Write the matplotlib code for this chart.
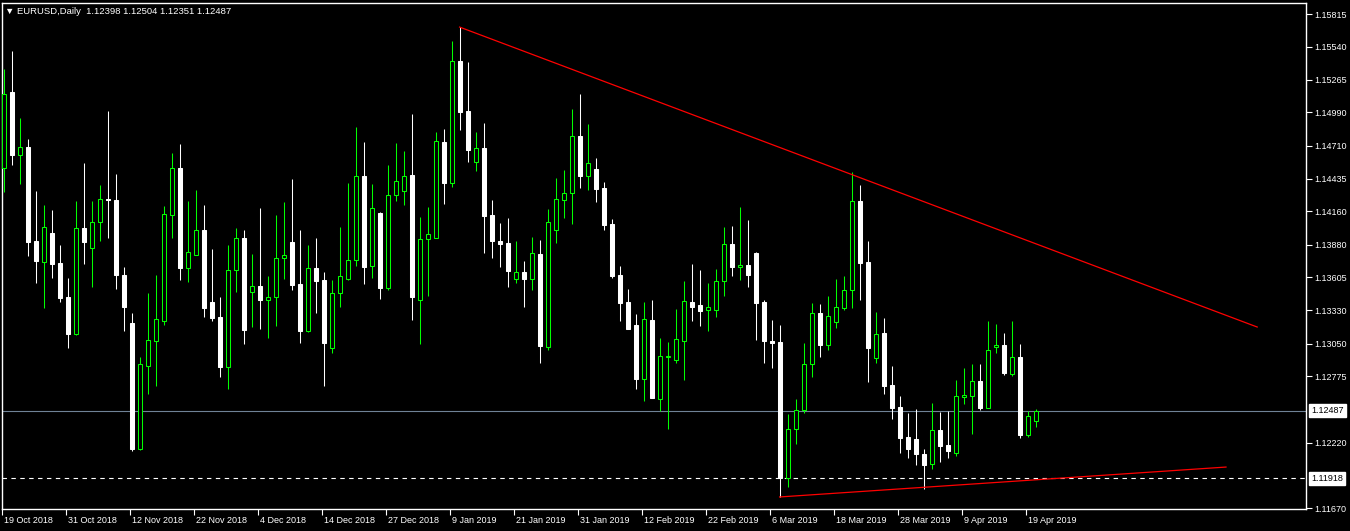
import matplotlib
matplotlib.use("Agg")
import matplotlib.pyplot as plt
import matplotlib.transforms as mtransforms
import numpy as np

plt.rcParams["font.family"] = ["Liberation Sans", "DejaVu Sans"]

# EURUSD daily, 19 Oct 2018 .. 22 Apr 2019
opens = [1.14523, 1.15161, 1.14632, 1.14700, 1.13911, 1.13735, 1.13978, 1.13726, 1.13441, 1.13130,
         1.14020, 1.13852, 1.14070, 1.14263, 1.14255, 1.13625, 1.13223, 1.12165, 1.12862, 1.13072,
         1.13240, 1.14129, 1.14523, 1.13684, 1.13793, 1.14003, 1.13399, 1.13273, 1.12853, 1.13667,
         1.13936, 1.13483, 1.13533, 1.13416, 1.13441, 1.13768, 1.13902, 1.13550, 1.13156, 1.13684,
         1.13584, 1.13013, 1.13474, 1.13592, 1.13751, 1.14456, 1.13701, 1.14146, 1.13516, 1.14297,
         1.14330, 1.14465, 1.13416, 1.13928, 1.13936, 1.14742, 1.14397, 1.15421, 1.15002, 1.14574,
         1.14691, 1.14129, 1.13911, 1.13894, 1.13592, 1.13651, 1.13592, 1.13802, 1.13021, 1.14003,
         1.14255, 1.14314, 1.14792, 1.14456, 1.14515, 1.14356, 1.14053, 1.13625, 1.13399, 1.13206,
         1.12753, 1.13248, 1.12585, 1.12937, 1.12912, 1.13072, 1.13399, 1.13374, 1.13332, 1.13332,
         1.13575, 1.13886, 1.13693, 1.13709, 1.13810, 1.13399, 1.13072, 1.13063, 1.11922, 1.12333,
         1.12493, 1.12879, 1.13307, 1.13038, 1.13231, 1.13349, 1.13500, 1.14246, 1.13735, 1.12929,
         1.13139, 1.12702, 1.12518, 1.12266, 1.12249, 1.12124, 1.12040, 1.12325, 1.12199, 1.12132,
         1.12602, 1.12610, 1.12736, 1.12510, 1.13021, 1.13038, 1.12795, 1.12937, 1.12283, 1.12398]
highs = [1.15354, 1.15505, 1.14943, 1.14767, 1.14330, 1.14213, 1.14171, 1.13877, 1.13600, 1.14246,
         1.14565, 1.14246, 1.14381, 1.15002, 1.14473, 1.13693, 1.13307, 1.12937, 1.13474, 1.13625,
         1.14204, 1.14649, 1.14725, 1.14246, 1.14339, 1.14213, 1.13844, 1.13441, 1.13877, 1.14020,
         1.14003, 1.13802, 1.14188, 1.13617, 1.14129, 1.14238, 1.14431, 1.14003, 1.13877, 1.13936,
         1.13651, 1.13584, 1.14028, 1.14397, 1.14867, 1.14742, 1.14389, 1.14154, 1.14549, 1.14733,
         1.14666, 1.14976, 1.14112, 1.14196, 1.14825, 1.14851, 1.15589, 1.15706, 1.15413, 1.14825,
         1.14901, 1.14255, 1.14062, 1.14104, 1.13911, 1.13743, 1.13944, 1.13919, 1.14179, 1.14439,
         1.14507, 1.15018, 1.15144, 1.14892, 1.14607, 1.14406, 1.14095, 1.13701, 1.13508, 1.13298,
         1.13399, 1.13416, 1.13097, 1.13063, 1.13340, 1.13575, 1.13718, 1.13667, 1.13558, 1.13676,
         1.14028, 1.14037, 1.14196, 1.14087, 1.13818, 1.13416, 1.13248, 1.13206, 1.12459, 1.12585,
         1.13055, 1.13391, 1.13382, 1.13449, 1.13592, 1.13617, 1.14490, 1.14381, 1.13911, 1.13315,
         1.13265, 1.12862, 1.12610, 1.12468, 1.12501, 1.12165, 1.12551, 1.12476, 1.12484, 1.12744,
         1.12845, 1.12879, 1.12879, 1.13240, 1.13214, 1.13139, 1.13240, 1.13046, 1.12484, 1.12504]
lows = [1.14322, 1.14549, 1.14389, 1.13785, 1.13558, 1.13349, 1.13600, 1.13399, 1.13013, 1.13122,
        1.13718, 1.13525, 1.13911, 1.13936, 1.13508, 1.13156, 1.12149, 1.12157, 1.12627, 1.12694,
        1.13206, 1.13936, 1.13584, 1.13567, 1.13793, 1.13273, 1.13240, 1.12770, 1.12669, 1.13483,
        1.13046, 1.13189, 1.13172, 1.13097, 1.13197, 1.13592, 1.13500, 1.13055, 1.13147, 1.13307,
        1.12694, 1.12971, 1.13357, 1.13584, 1.13701, 1.13550, 1.13600, 1.13424, 1.13500, 1.14246,
        1.14213, 1.13248, 1.13046, 1.13449, 1.13936, 1.14221, 1.14364, 1.14842, 1.14574, 1.14498,
        1.13810, 1.13768, 1.13693, 1.13525, 1.13558, 1.13357, 1.13500, 1.12887, 1.12996, 1.13894,
        1.14104, 1.14053, 1.14356, 1.14339, 1.14238, 1.14003, 1.13600, 1.13240, 1.13172, 1.12669,
        1.12568, 1.12593, 1.12484, 1.12333, 1.12887, 1.12744, 1.13240, 1.13197, 1.13156, 1.13273,
        1.13449, 1.13617, 1.13584, 1.13525, 1.13080, 1.12887, 1.12845, 1.11763, 1.11847, 1.12207,
        1.12468, 1.12770, 1.12937, 1.12996, 1.13181, 1.13332, 1.13349, 1.13416, 1.12728, 1.12887,
        1.12627, 1.12417, 1.12132, 1.12090, 1.12031, 1.11830, 1.11998, 1.12056, 1.12090, 1.12107,
        1.12543, 1.12291, 1.12493, 1.12510, 1.12971, 1.12786, 1.12778, 1.12258, 1.12266, 1.12351]
closes = [1.15144, 1.14632, 1.14700, 1.13902, 1.13743, 1.14028, 1.13718, 1.13433, 1.13130, 1.14020,
          1.13902, 1.14070, 1.14263, 1.14255, 1.13625, 1.13357, 1.12165, 1.12879, 1.13080, 1.13256,
          1.14137, 1.14523, 1.13684, 1.13818, 1.14003, 1.13349, 1.13265, 1.12853, 1.13667, 1.13936,
          1.13164, 1.13533, 1.13416, 1.13441, 1.13768, 1.13793, 1.13542, 1.13156, 1.13684, 1.13575,
          1.13055, 1.13474, 1.13617, 1.13751, 1.14456, 1.13693, 1.14188, 1.13516, 1.14297, 1.14414,
          1.14456, 1.13441, 1.13928, 1.13970, 1.14750, 1.14397, 1.15421, 1.14993, 1.14674, 1.14691,
          1.14121, 1.13911, 1.13886, 1.13659, 1.13651, 1.13592, 1.13810, 1.13030, 1.14070, 1.14263,
          1.14314, 1.14792, 1.14456, 1.14565, 1.14347, 1.14045, 1.13617, 1.13391, 1.13172, 1.12753,
          1.13256, 1.12593, 1.12946, 1.12946, 1.13088, 1.13407, 1.13357, 1.13323, 1.13357, 1.13575,
          1.13886, 1.13693, 1.13709, 1.13625, 1.13391, 1.13072, 1.13055, 1.11922, 1.12333, 1.12493,
          1.12879, 1.13307, 1.13038, 1.13281, 1.13357, 1.13500, 1.14246, 1.13726, 1.13013, 1.13130,
          1.12694, 1.12510, 1.12258, 1.12165, 1.12124, 1.12031, 1.12325, 1.12191, 1.12149, 1.12610,
          1.12619, 1.12736, 1.12510, 1.12996, 1.13038, 1.12803, 1.12937, 1.12283, 1.12442, 1.12487]

date_ticks = [0, 8, 16, 24, 32, 40, 48, 56, 64, 72, 80, 88, 96, 104, 112, 120, 128]
date_labels = ["19 Oct 2018", "31 Oct 2018", "12 Nov 2018", "22 Nov 2018", "4 Dec 2018",
               "14 Dec 2018", "27 Dec 2018", "9 Jan 2019", "21 Jan 2019", "31 Jan 2019",
               "12 Feb 2019", "22 Feb 2019", "6 Mar 2019", "18 Mar 2019", "28 Mar 2019",
               "9 Apr 2019", "19 Apr 2019"]
price_ticks = [1.15815, 1.15540, 1.15265, 1.14990, 1.14710, 1.14435, 1.14160, 1.13880,
               1.13605, 1.13330, 1.13050, 1.12775, 1.12220, 1.11670]

bid = 1.12487
level = 1.11918
upper_x, upper_y = [57, 156.7], [1.15706, 1.13189]
lower_x, lower_y = [97, 152.8], [1.11763, 1.12014]

GREEN = "#00ff00"
W, H = 1350, 531
fig = plt.figure(figsize=(W / 100, H / 100), dpi=100, facecolor="black")
ax = fig.add_axes([2 / W, 22 / H, 1304 / W, 506 / H], facecolor="black")

o = np.array(opens); h = np.array(highs); l = np.array(lows); c = np.array(closes)
x = np.arange(len(o))
up = c >= o
lw = 0.75

# wicks
ax.vlines(x[up], l[up], h[up], color=GREEN, lw=lw, zorder=2)
ax.vlines(x[~up], l[~up], h[~up], color="white", lw=lw, zorder=2)

# bodies
bot = np.minimum(o, c)
hgt = np.abs(c - o)
ax.bar(x[up], hgt[up], bottom=bot[up], width=0.5, facecolor="black",
       edgecolor=GREEN, linewidth=lw, zorder=3)
ax.bar(x[~up], hgt[~up], bottom=bot[~up], width=0.5, facecolor="white",
       edgecolor="white", linewidth=lw, zorder=3)

# bid line, horizontal level, trend lines
ax.axhline(bid, color="#6f8296", lw=0.8, zorder=1)
ax.axhline(level, color="white", lw=0.8, ls=(0, (4, 4)), zorder=1)
ax.plot(upper_x, upper_y, color="red", lw=0.9, zorder=4)
ax.plot(lower_x, lower_y, color="red", lw=0.9, zorder=4)

ax.set_xlim(-0.19, 162.8)
ax.set_ylim(1.11662, 1.15908)

for s in ax.spines.values():
    s.set_color("white")
    s.set_linewidth(1)

ax.yaxis.tick_right()
ax.set_yticks(price_ticks)
ax.set_yticklabels(["%.5f" % p for p in price_ticks])
ax.tick_params(axis="y", colors="white", direction="out", length=4, width=0.8,
               labelsize=6.5, pad=2)
ax.set_xticks([t - 0.2 for t in date_ticks])
ax.set_xticklabels(date_labels)
ax.tick_params(axis="x", colors="white", direction="out", length=4, width=0.8,
               labelsize=6.5, pad=1)
offset = mtransforms.ScaledTranslation(2 / 100, 0, fig.dpi_scale_trans)
for t in ax.get_xticklabels():
    t.set_horizontalalignment("left")
    t.set_transform(t.get_transform() + offset)

# price labels on the right axis
tr = mtransforms.blended_transform_factory(ax.transAxes, ax.transData)
for p in [bid, level]:
    ax.text(1.004, p, "%.5f" % p, transform=tr, color="black", fontsize=6.5,
            va="center", ha="left", clip_on=False,
            bbox=dict(boxstyle="square,pad=0.2", fc="white", ec="white"))

fig.text(5 / W, 1 - 12 / H, "\u25bc EURUSD,Daily  1.12398 1.12504 1.12351 1.12487",
         color="white", fontsize=6.8, va="center", ha="left")

fig.savefig("out.png", dpi=100, facecolor="black")
